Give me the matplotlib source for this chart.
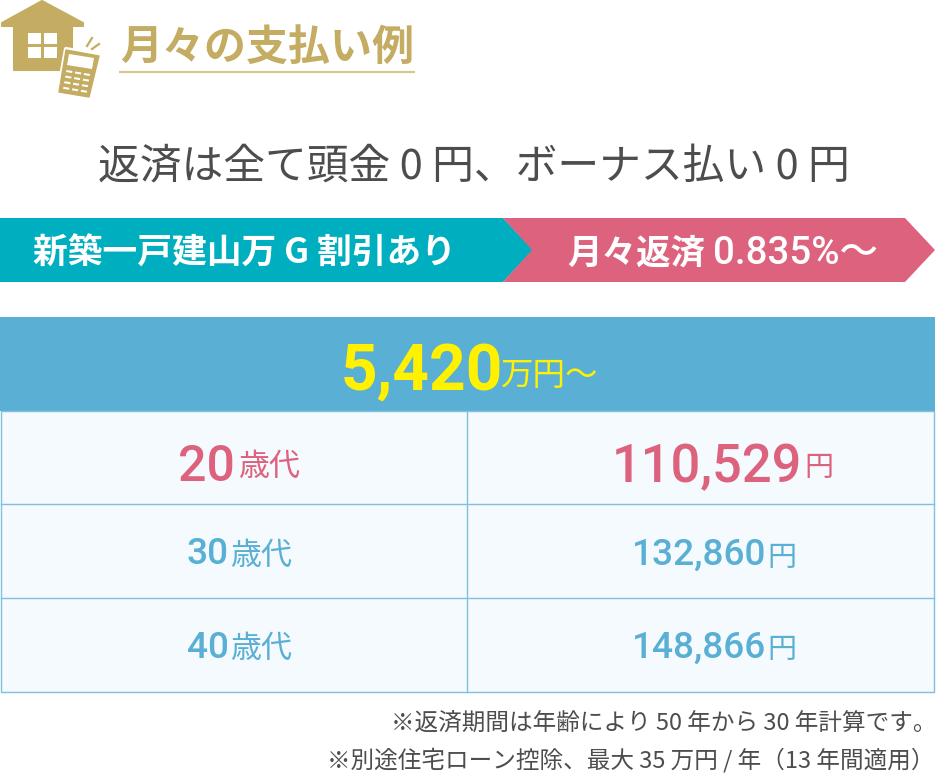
import matplotlib
matplotlib.use('Agg')
import matplotlib.pyplot as plt
from matplotlib.patches import Polygon, Rectangle

plt.rcParams['font.family'] = ['Noto Sans CJK JP', 'DejaVu Sans']

heading = '月々の支払い例'
subtitle = '返済は全て頭金 0 円、ボーナス払い 0 円'
banner_left = '新築一戸建山万 G 割引あり'
banner_right = ['月々返済', '0.835%～']
price = '5,420'
price_unit = '万円～'
ages = ['20', '30', '40']
age_unit = '歳代'
payments = ['110,529', '132,860', '148,866']
pay_unit = '円'
notes = ['※返済期間は年齢により 50 年から 30 年計算です。',
         '※別途住宅ローン控除、最大 35 万円 / 年（13 年間適用）']

GOLD = '#c4ad62'; TEAL = '#00afbf'; PINK = '#dd627e'; BLUE = '#5aafd4'
PALE = '#f4fafd'; LINE = '#7fc0de'; GREY = '#4d4d4d'; YEL = '#fff100'

fig = plt.figure(figsize=(9.36, 7.74), dpi=100)
ax = fig.add_axes([0, 0, 1, 1])
ax.set_xlim(0, 936); ax.set_ylim(774, 0); ax.axis('off')
PX = 0.72
NUM = ['Roboto', 'Noto Sans CJK JP']

def T(x, y, s, px, c, ha='left', w='normal', fam=None, va='center_baseline'):
    kw = {'family': fam} if fam else {}
    return ax.text(x, y, s, fontsize=px * PX, color=c, ha=ha, va=va, fontweight=w, **kw)

# house icon
ax.add_patch(Polygon([(2, 23), (42, 1), (83, 23), (83, 26), (72, 26), (72, 70), (14, 70), (14, 26), (2, 26)],
                     closed=True, fc=GOLD, ec=GOLD, lw=1.5, joinstyle='round'))
for x0, y0 in [(28, 32.5), (44, 32.5), (28, 47), (44, 47)]:
    ax.add_patch(Rectangle((x0, y0), 13, 11, fc='white', ec='none'))
# calculator
ax.add_patch(Polygon([(66, 49), (100, 55), (90, 98), (58, 93)], closed=True, fc=GOLD, ec='white', lw=3, joinstyle='round'))
ax.add_patch(Polygon([(66, 50), (99, 56), (89, 97), (59, 92)], closed=True, fc=GOLD, ec=GOLD, lw=1, joinstyle='round'))
ax.add_patch(Polygon([(69, 54), (94, 58), (92, 69), (67, 65)], closed=True, fc='white', ec='none'))
for r in range(4):
    for k in range(3):
        x0 = 66.5 + k * 8.8 - r * 1.0
        y0 = 70 + r * 5.6 + k * 1.5
        ax.add_patch(Polygon([(x0, y0), (x0 + 6, y0 + 1), (x0 + 5.6, y0 + 3), (x0 - 0.4, y0 + 2)], closed=True, fc='white', ec='none'))
ax.plot([87, 92], [46, 38], color=GOLD, lw=1.6)
ax.plot([92, 99], [49, 44], color=GOLD, lw=1.6)

# heading
T(120, 43, heading, 42, GOLD, w='bold')
ax.plot([119, 415], [71.5, 71.5], color='#d6c78f', lw=1.6, solid_capstyle='butt')

# subtitle
T(98, 163, subtitle, 41.8, GREY)

# banners
ax.add_patch(Polygon([(0, 218), (503, 218), (533, 250), (503, 282), (0, 282)], closed=True, fc=TEAL, ec='none'))
ax.add_patch(Polygon([(503, 218), (905, 218), (935, 250), (905, 282), (503, 282), (532, 250)], closed=True, fc=PINK, ec='none'))
T(33, 250, banner_left, 34.8, 'white', w='bold')
T(567, 250, banner_right[0], 34.5, 'white', w='bold')
T(713, 250, banner_right[1], 38.5, 'white', w='medium', fam=NUM)

# table
L, M, R = 0.5, 467, 934
ax.add_patch(Rectangle((0, 317), 935, 94, fc=BLUE, ec='none'))
ax.add_patch(Rectangle((L, 410.5), R - L, 281.5, fc=PALE, ec=LINE, lw=1))
ax.plot([M, M], [411, 692], color=LINE, lw=1)
for y in [503.5, 597.5]:
    ax.plot([L, R], [y, y], color=LINE, lw=1)

T(341, 366, price, 64, YEL, w='bold', fam=NUM)
T(501, 373, price_unit, 32.5, YEL)

rows_y = [462, 551, 644]
age_px = [50, 37, 37]
pay_px = [52.5, 37, 37]
age_x = [178, 187, 187]
pay_x = [612, 632, 632]
age_unit_x = [238, 230, 230]
pay_unit_x = [804, 767, 767]
colors = [PINK, BLUE, BLUE]
for i, (a, p) in enumerate(zip(ages, payments)):
    T(age_x[i], rows_y[i], a, age_px[i], colors[i], w='medium', fam=NUM)
    T(age_unit_x[i], rows_y[i] + 2, age_unit, 31, colors[i])
    T(pay_x[i], rows_y[i], p, pay_px[i], colors[i], w='medium', fam=NUM)
    T(pay_unit_x[i], rows_y[i] + 3, pay_unit, 29, colors[i])

# notes
T(391, 721, notes[0], 23.6, GREY)
T(327, 758, notes[1], 23.6, GREY)

fig.savefig('out.png', dpi=100)
